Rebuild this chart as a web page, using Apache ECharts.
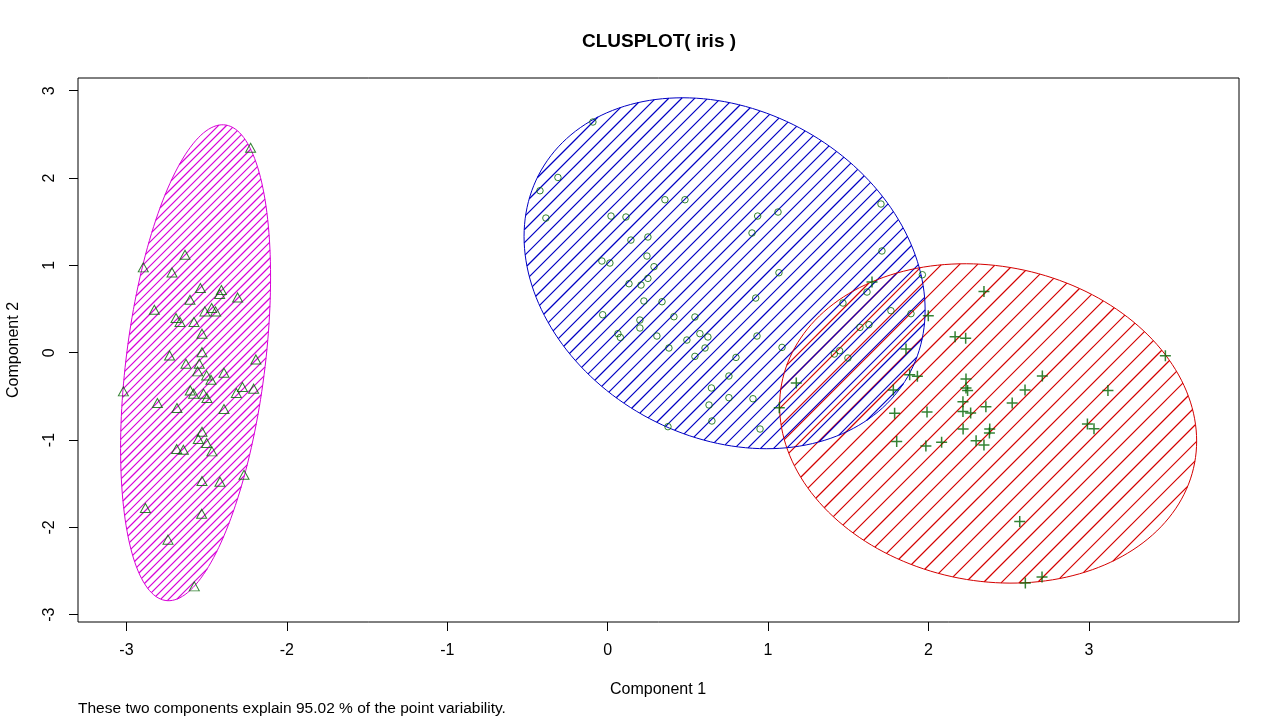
<!DOCTYPE html>
<html>
<head>
<meta charset="utf-8">
<title>CLUSPLOT( iris )</title>
<script src="https://cdn.jsdelivr.net/npm/echarts@6/dist/echarts.min.js"></script>
<style>
  html, body { margin: 0; padding: 0; background: #fff; }
  #chart { width: 1280px; height: 720px; }
</style>
</head>
<body>
<div id="chart"></div>
<script>
// cluster 3 (triangles)
var triPts = [
  [-2.226, 2.347], [-2.635, 1.122], [-2.895, 0.977], [-2.716, 0.919], [-2.539, 0.741],
  [-2.408, 0.718], [-2.419, 0.672], [-2.307, 0.633], [-2.604, 0.607], [-2.826, 0.492],
  [-2.469, 0.512], [-2.511, 0.473], [-2.444, 0.473], [-2.691, 0.397], [-2.666, 0.352],
  [-2.579, 0.352], [-2.529, 0.218], [-2.731, -0.031], [-2.529, 0.006], [-2.193, -0.077],
  [-2.629, -0.126], [-2.546, -0.126], [-2.556, -0.214], [-2.500, -0.260], [-2.473, -0.309],
  [-2.392, -0.229], [-3.019, -0.443], [-2.602, -0.432], [-2.581, -0.469], [-2.519, -0.469],
  [-2.498, -0.519], [-2.277, -0.393], [-2.315, -0.461], [-2.207, -0.412], [-2.807, -0.576],
  [-2.685, -0.633], [-2.392, -0.645], [-2.529, -0.905], [-2.552, -0.988], [-2.500, -1.034],
  [-2.467, -1.130], [-2.687, -1.103], [-2.645, -1.111], [-2.267, -1.397], [-2.529, -1.469],
  [-2.417, -1.477], [-2.882, -1.778], [-2.531, -1.844], [-2.741, -2.141], [-2.577, -2.676]
];

// cluster 2 (circles)
var circPts = [
  [-0.092, 2.642], [-0.310, 2.007], [-0.422, 1.855], [-0.385, 1.542], [0.357, 1.752],
  [0.482, 1.752], [0.021, 1.565], [0.114, 1.554], [0.145, 1.290], [0.251, 1.325],
  [0.245, 1.107], [-0.036, 1.050], [0.014, 1.027], [0.289, 0.985], [0.251, 0.851],
  [1.704, 1.703], [0.935, 1.565], [1.062, 1.611], [0.900, 1.371], [1.710, 1.165],
  [1.068, 0.916], [1.962, 0.893], [0.133, 0.790], [0.208, 0.775], [0.226, 0.592],
  [0.339, 0.584], [0.923, 0.626], [-0.031, 0.435], [0.201, 0.374], [0.201, 0.283],
  [0.413, 0.412], [0.544, 0.409], [0.064, 0.218], [0.079, 0.175], [0.307, 0.191],
  [0.494, 0.145], [0.575, 0.218], [0.625, 0.180], [0.931, 0.191], [0.382, 0.054],
  [0.607, 0.054], [0.544, -0.042], [0.800, -0.054], [0.756, -0.267], [0.647, -0.404],
  [0.756, -0.515], [0.906, -0.527], [0.632, -0.599], [0.650, -0.782], [0.376, -0.847],
  [0.950, -0.874], [1.087, 0.061], [1.467, 0.569], [1.617, 0.695], [1.766, 0.481],
  [1.891, 0.447], [1.573, 0.290], [1.629, 0.321], [1.413, -0.015], [1.446, 0.023],
  [1.498, -0.061]
];

// cluster 1 (plus signs)
var plusPts = [
  [1.648, 0.810], [1.999, 0.424], [1.860, 0.042], [1.883, -0.252], [1.931, -0.271],
  [1.176, -0.347], [1.781, -0.427], [1.070, -0.630], [1.789, -0.693], [1.991, -0.679],
  [1.802, -1.016], [2.346, 0.702], [2.166, 0.183], [2.232, 0.166], [2.234, -0.301],
  [2.234, -0.404], [2.244, -0.432], [2.710, -0.267], [2.602, -0.427], [2.522, -0.576],
  [2.215, -0.561], [2.358, -0.618], [2.215, -0.672], [2.263, -0.690], [2.216, -0.873],
  [2.382, -0.874], [2.380, -0.919], [1.984, -1.068], [2.082, -1.025], [2.297, -1.008],
  [2.346, -1.057], [3.477, -0.034], [3.119, -0.432], [2.991, -0.816], [3.032, -0.870],
  [2.569, -1.932], [2.708, -2.568], [2.604, -2.637]
];

// cluster ellipses: centre and shape matrix [sxx, sxy, syy] in data units
var ellCenter = [[2.372, -0.810], [0.729, 0.910], [-2.569, -0.115]];
var ellShape = [[1.690, -0.262, 3.344], [1.563, -0.526, 4.038], [0.2186, 0.4587, 7.427]];

var tickVals = [-3, -2, -1, 0, 1, 2, 3];

var ellColors = ['#d40000', '#0000c4', '#d800d8'];
var hatchStep = [18, 13, 8];
var ptColor = '#006400';
var font = '"Liberation Sans", Arial, Helvetica, sans-serif';

var chart = echarts.init(document.getElementById('chart'));

// outline of ellipse k in data units
function ellipseOutline(k) {
  var ctr = ellCenter[k], s = ellShape[k];
  var l11 = Math.sqrt(s[0]);
  var l21 = s[1] / l11;
  var l22 = Math.sqrt(s[2] - l21 * l21);
  var pts = [];
  for (var i = 0; i < 180; i++) {
    var t = i / 180 * Math.PI * 2;
    pts.push([ctr[0] + l11 * Math.cos(t), ctr[1] + l21 * Math.cos(t) + l22 * Math.sin(t)]);
  }
  return pts;
}

function renderOutline(params, api) {
  var k = params.dataIndex;
  var pts = ellipseOutline(k).map(function (p) { return api.coord(p); });
  return {
    type: 'polygon',
    shape: { points: pts },
    style: { fill: 'none', stroke: ellColors[k], lineWidth: 1 }
  };
}

var option = {
  backgroundColor: '#fff',
  animation: false,
  grid: {
    left: 78, right: 41, top: 78, bottom: 98,
    show: true,
    borderColor: '#000',
    borderWidth: 1,
    backgroundColor: 'transparent'
  },
  xAxis: {
    type: 'value',
    min: -3.302,
    max: 3.936,
    axisLine: { show: false, onZero: false },
    splitLine: { show: false },
    axisTick: {
      show: true, inside: false, length: 9,
      customValues: tickVals,
      lineStyle: { color: '#000', width: 1 }
    },
    axisLabel: {
      customValues: tickVals,
      margin: 21,
      fontSize: 16,
      color: '#000',
      fontFamily: font
    }
  },
  yAxis: {
    type: 'value',
    min: -3.084,
    max: 3.146,
    axisLine: { show: false, onZero: false },
    splitLine: { show: false },
    axisTick: {
      show: true, inside: false, length: 9,
      customValues: tickVals,
      lineStyle: { color: '#000', width: 1 }
    },
    axisLabel: {
      customValues: tickVals,
      rotate: 90,
      margin: 20,
      fontSize: 16,
      color: '#000',
      fontFamily: font
    }
  },
  graphic: [
    {
      type: 'text', x: 659, y: 42,
      style: {
        text: 'CLUSPLOT( iris )', fill: '#000', align: 'center', verticalAlign: 'middle',
        font: 'bold 19px ' + font
      }
    },
    {
      type: 'text', x: 658, y: 690,
      style: {
        text: 'Component 1', fill: '#000', align: 'center', verticalAlign: 'middle',
        font: '16px ' + font
      }
    },
    {
      type: 'text', x: 14, y: 350, rotation: Math.PI / 2,
      style: {
        text: 'Component 2', fill: '#000', align: 'center', verticalAlign: 'middle',
        font: '16px ' + font
      }
    },
    {
      type: 'text', x: 78, y: 709,
      style: {
        text: 'These two components explain 95.02 % of the point variability.',
        fill: '#000', align: 'left', verticalAlign: 'middle',
        font: '15.5px ' + font
      }
    }
  ],
  series: [
    { id: 'hatch0', type: 'lines', coordinateSystem: 'cartesian2d', data: [], silent: true, z: 1,
      lineStyle: { color: ellColors[0], width: 1.2, opacity: 1 } },
    { id: 'hatch1', type: 'lines', coordinateSystem: 'cartesian2d', data: [], silent: true, z: 1,
      lineStyle: { color: ellColors[1], width: 1.2, opacity: 1 } },
    { id: 'hatch2', type: 'lines', coordinateSystem: 'cartesian2d', data: [], silent: true, z: 1,
      lineStyle: { color: ellColors[2], width: 1.2, opacity: 1 } },
    {
      type: 'custom',
      renderItem: renderOutline,
      data: ellCenter,
      silent: true,
      z: 2
    },
    {
      type: 'scatter',
      data: triPts,
      symbol: 'triangle',
      symbolSize: [10, 9],
      itemStyle: { color: 'rgba(0,0,0,0)', borderColor: ptColor, borderWidth: 1 },
      z: 3
    },
    {
      type: 'scatter',
      data: circPts,
      symbol: 'circle',
      symbolSize: 6.5,
      itemStyle: { color: 'rgba(0,0,0,0)', borderColor: ptColor, borderWidth: 1 },
      z: 3
    },
    {
      type: 'scatter',
      data: plusPts,
      symbol: 'path://M0,5L10,5M5,0L5,10',
      symbolSize: 11,
      itemStyle: { color: 'rgba(0,0,0,0)', borderColor: ptColor, borderWidth: 1.5 },
      z: 3
    }
  ]
};

chart.setOption(option);

// shading: 45 degree lines in screen space, clipped to each ellipse
function hatchData(k) {
  var finder = { gridIndex: 0 };
  var pts = ellipseOutline(k).map(function (p) { return chart.convertToPixel(finder, p); });
  var step = hatchStep[k];
  var lo = Infinity, hi = -Infinity;
  pts.forEach(function (p) {
    var v = p[0] + p[1];
    if (v < lo) lo = v;
    if (v > hi) hi = v;
  });
  var segs = [];
  for (var lev = Math.ceil(lo / step) * step; lev < hi; lev += step) {
    var hits = [];
    for (var i = 0; i < pts.length; i++) {
      var a = pts[i], b = pts[(i + 1) % pts.length];
      var fa = a[0] + a[1] - lev, fb = b[0] + b[1] - lev;
      if ((fa <= 0 && fb > 0) || (fa > 0 && fb <= 0)) {
        var t = fa / (fa - fb);
        hits.push([a[0] + t * (b[0] - a[0]), a[1] + t * (b[1] - a[1])]);
      }
    }
    if (hits.length >= 2) {
      segs.push({ coords: [chart.convertFromPixel(finder, hits[0]), chart.convertFromPixel(finder, hits[1])] });
    }
  }
  return segs;
}

chart.setOption({
  series: [
    { id: 'hatch0', data: hatchData(0) },
    { id: 'hatch1', data: hatchData(1) },
    { id: 'hatch2', data: hatchData(2) }
  ]
});
</script>
</body>
</html>
